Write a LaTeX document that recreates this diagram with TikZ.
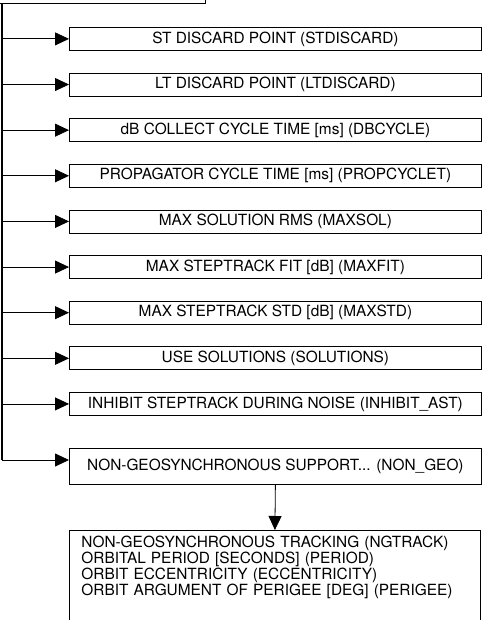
\documentclass[tikz,border=0pt]{standalone}
\usepackage{fontspec}
\setmainfont{TeX Gyre Heros}
\usetikzlibrary{arrows.meta,calc}

\begin{document}
\begin{tikzpicture}[
  x=1pt, y=-1pt,
  font=\fontsize{15.4}{16}\selectfont,
  box/.style={
    draw,
    line width=0.8pt,
    anchor=north west,
    minimum width=412pt,
    minimum height=23pt,
    inner sep=0pt,
  },
  arr/.style={
    -{Triangle[length=14pt,width=13pt]},
    line width=0.8pt,
  },
  trunk/.style={line width=1.8pt},
]
  \useasboundingbox (0,0) rectangle (491,620);
  \clip (0,0) rectangle (491,620);
  % Parent menu box, cut off at the top of the page
  \node[draw, line width=0.8pt, anchor=south east, minimum width=260pt, minimum height=40pt] (menu) at (206,4) {};
  \coordinate (hub) at (2,4);
  \coordinate (foot) at (2,460);
  \draw[trunk] (hub) -- (foot);
  % Parameter boxes, one per row
  \foreach \i/\t in {
      1/{ST DISCARD POINT (STDISCARD)},
      2/{LT DISCARD POINT (LTDISCARD)},
      3/{dB COLLECT CYCLE TIME [ms] (DBCYCLE)},
      4/{PROPAGATOR CYCLE TIME [ms] (PROPCYCLET)},
      5/{MAX SOLUTION RMS (MAXSOL)},
      6/{MAX STEPTRACK FIT [dB] (MAXFIT)},
      7/{MAX STEPTRACK STD [dB] (MAXSTD)},
      8/{USE SOLUTIONS (SOLUTIONS)},
      9/{INHIBIT STEPTRACK DURING NOISE (INHIBIT\_AST)}} {
    \node[box] (b\i) at (69,{27+(\i-1)*45.63}) {\t};
    \draw[arr] (hub |- b\i.west) -- (b\i.west);
  }
  % Last entry opens a sub-menu
  \node[box, minimum height=36pt] (ng) at (69,448) {NON-GEOSYNCHRONOUS SUPPORT... (NON\_GEO)};
  \coordinate (ngin) at ($(ng.north west)+(0,12)$);
  \draw[arr] (foot |- ngin) -- (ngin);
  \node[draw, line width=0.8pt, anchor=north west, align=left, text width=387pt,
        inner xsep=12pt, inner ysep=6pt, text depth=120pt] (sub) at (69,530)
    {NON-GEOSYNCHRONOUS TRACKING (NGTRACK)\\
     ORBITAL PERIOD [SECONDS] (PERIOD)\\
     ORBIT ECCENTRICITY (ECCENTRICITY)\\
     ORBIT ARGUMENT OF PERIGEE [DEG] (PERIGEE)};
  \draw[arr] (ng.south) -- (sub.north);
\end{tikzpicture}
\end{document}
